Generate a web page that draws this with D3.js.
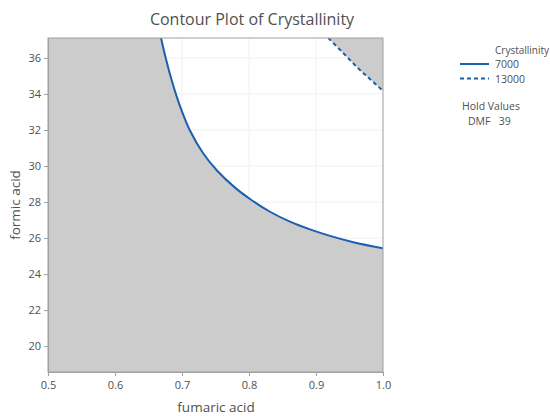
<!DOCTYPE html>
<html lang="en">
<head>
    <meta charset="UTF-8">
    <title>Contour Plot of Crystallinity</title>
    <script src="https://d3js.org/d3.v7.min.js"></script>
    <style>
        body { margin: 0; background: #fff; }
        text { font-family: "Open Sans", "Noto Sans", sans-serif; fill: #505050; }
    </style>
</head>
<body>

    <svg width="550" height="416"></svg>

<script>

    // contour line at Crystallinity = 7000 (fumaric acid, formic acid)
    var c7000x = [0.6687, 0.6761, 0.6858, 0.6970, 0.7119, 0.7313, 0.7522, 0.7791, 0.8015, 0.8313, 0.8612, 0.8910, 0.9209, 0.9557, 1.000];
    var c7000y = [37.11, 35.94, 34.61, 33.33, 31.97, 30.72, 29.75, 28.80, 28.17, 27.46, 26.91, 26.48, 26.12, 25.77, 25.43];
    // contour line at Crystallinity = 13000
    var c13000x = [0.9184, 0.940, 0.961, 0.980, 1.000];
    var c13000y = [37.11, 36.30, 35.50, 34.85, 34.17];

    var xTicks = [0.5, 0.6, 0.7, 0.8, 0.9, 1.0];
    var yTicks = [20, 22, 24, 26, 28, 30, 32, 34, 36];
    var levels = ['7000', '13000'];
    var holdName = 'DMF';
    var holdValue = 39;

    var pLeft = 48, pRight = 383, pTop = 38, pBottom = 372;
    var blue = '#1b5fad';

    var svg = d3.select('svg');

    var x = d3.scaleLinear().domain([0.5, 1.0]).range([pLeft, pRight]);
    var y = d3.scaleLinear().domain([18.56, 37.11]).range([pBottom, pTop]);

    //裁剪区域
    svg.append('clipPath').attr('id', 'plot')
        .append('rect')
        .attr('x', pLeft).attr('y', pTop)
        .attr('width', pRight - pLeft).attr('height', pBottom - pTop);

    var g = svg.append('g').attr('clip-path', 'url(#plot)');

    // 网格线
    g.selectAll('.gx').data(xTicks).enter().append('line')
        .attr('x1', d => x(d)).attr('x2', d => x(d))
        .attr('y1', pTop).attr('y2', pBottom)
        .attr('stroke', '#f0f0f0');
    g.selectAll('.gy').data(yTicks).enter().append('line')
        .attr('y1', d => y(d)).attr('y2', d => y(d))
        .attr('x1', pLeft).attr('x2', pRight)
        .attr('stroke', '#f0f0f0');

    var pts7000 = c7000x.map((d, i) => [d, c7000y[i]]);
    var pts13000 = c13000x.map((d, i) => [d, c13000y[i]]);

    var line = d3.line()
        .x(d => x(d[0]))
        .y(d => y(d[1]))
        .curve(d3.curveCatmullRom.alpha(0.5));

    var xd = x.domain(), yd = y.domain();

    // 灰色区域 (< 7000)
    g.append('path')
        .attr('d', line(pts7000) +
            'L' + x(xd[1] + 0.01) + ',' + y(c7000y[c7000y.length - 1]) +
            'L' + x(xd[1] + 0.01) + ',' + y(yd[0] - 1) +
            'L' + x(xd[0] - 0.01) + ',' + y(yd[0] - 1) +
            'L' + x(xd[0] - 0.01) + ',' + y(yd[1] + 1) +
            'L' + x(c7000x[0]) + ',' + y(yd[1] + 1) + 'Z')
        .attr('fill', '#cccccc');

    // 灰色区域 (> 13000)
    g.append('path')
        .attr('d', line(pts13000) +
            'L' + x(xd[1] + 0.01) + ',' + y(c13000y[c13000y.length - 1]) +
            'L' + x(xd[1] + 0.01) + ',' + y(yd[1] + 1) +
            'L' + x(c13000x[0]) + ',' + y(yd[1] + 1) + 'Z')
        .attr('fill', '#cccccc');

    g.append('path').attr('d', line(pts7000))
        .attr('fill', 'none').attr('stroke', blue).attr('stroke-width', 2);
    g.append('path').attr('d', line(pts13000))
        .attr('fill', 'none').attr('stroke', blue).attr('stroke-width', 2)
        .attr('stroke-dasharray', '4,3');

    // 边框
    svg.append('rect')
        .attr('x', pLeft).attr('y', pTop)
        .attr('width', pRight - pLeft).attr('height', pBottom - pTop)
        .attr('fill', 'none').attr('stroke', '#a0a0a0');

    //坐标轴
    var axisX = d3.axisBottom(x).tickValues(xTicks).tickFormat(d3.format('.1f')).tickSize(4).tickSizeOuter(0);
    var axisY = d3.axisLeft(y).tickValues(yTicks).tickSize(4).tickSizeOuter(0);

    var ax = svg.append('g').attr('transform', 'translate(0,' + pBottom + ')').call(axisX);
    var ay = svg.append('g').attr('transform', 'translate(' + pLeft + ',0)').call(axisY);

    [ax, ay].forEach(function (a) {
        a.select('.domain').attr('stroke', '#a0a0a0');
        a.selectAll('.tick line').attr('stroke', '#a0a0a0');
        a.selectAll('.tick text')
            .style('font-family', '"Open Sans", sans-serif')
            .attr('font-size', 11).attr('fill', '#404040');
    });
    ax.selectAll('.tick text').attr('dy', '0.95em');

    // 标题和轴标签
    svg.append('text').attr('x', 252).attr('y', 25)
        .attr('text-anchor', 'middle').attr('font-size', 16)
        .text('Contour Plot of Crystallinity');

    svg.append('text').attr('x', 216).attr('y', 412)
        .attr('text-anchor', 'middle').attr('font-size', 13.5)
        .text('fumaric acid');

    svg.append('text')
        .attr('transform', 'translate(20,' + 205 + ') rotate(-90)')
        .attr('text-anchor', 'middle').attr('font-size', 13.5)
        .text('formic acid');

    // 图例
    var lg = svg.append('g').attr('font-size', 10.5);
    lg.append('text').attr('x', 495).attr('y', 54).attr('font-size', 10).text('Crystallinity');
    levels.forEach(function (d, i) {
        var ly = 64 + i * 14.5;
        lg.append('line')
            .attr('x1', 460).attr('x2', 489)
            .attr('y1', ly).attr('y2', ly)
            .attr('stroke', blue).attr('stroke-width', 2)
            .attr('stroke-dasharray', i === 1 ? '4,3' : null);
        lg.append('text').attr('x', 495).attr('y', ly + 4).text(d);
    });
    lg.append('text').attr('x', 462).attr('y', 110).text('Hold Values');
    lg.append('text').attr('x', 468).attr('y', 125).attr('xml:space', 'preserve')
        .text(holdName + '   ' + holdValue);

</script>
</body>
</html>
